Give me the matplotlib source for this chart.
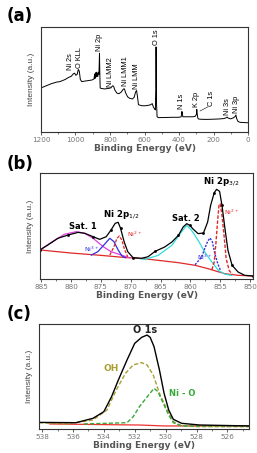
import matplotlib
matplotlib.use("Agg")
import matplotlib.pyplot as plt
from matplotlib.ticker import MultipleLocator

# ---- (a) survey spectrum ----
survey_ev = [1200, 1170, 1140, 1110, 1090, 1060, 1040, 1025, 1012, 1005, 998, 990, 984, 978,
             972, 964, 945, 925, 905, 893, 889, 887, 885, 883, 880, 877, 874, 871, 868, 864,
             861, 859, 857, 852, 830, 810, 795, 785, 779, 772, 760, 748, 735, 722, 716, 710,
             698, 685, 670, 660, 652, 646, 641, 635, 615, 595, 575, 565, 555, 549, 542, 537,
             534, 533, 531, 527, 520, 480, 440, 400, 387, 384, 381, 378, 350, 320, 305, 299,
             297, 294, 291, 285, 270, 240, 200, 160, 140, 128, 121, 116, 100, 85, 76, 70, 66,
             58, 45, 25, 0]
survey_int = [42, 44, 46, 47.5, 48, 50, 52, 53, 55.5, 56, 54, 55, 59.5, 58,
              50, 48, 48.5, 49, 49.5, 50.5, 55, 51, 56, 52, 57, 53, 56, 53, 57, 55,
              75, 56, 42, 41.5, 41, 41.5, 42, 44, 43.5, 40, 37, 36.5, 38, 41, 41, 37.5,
              33.5, 32, 31.5, 33, 38, 39.5, 34, 26, 25, 25, 25.5, 26, 27, 24, 22, 21,
              40, 81, 30, 14.5, 13.7, 13.8, 14, 14, 14.5, 19.5, 19, 14.5, 14.5, 14.5, 15, 17,
              21.5, 17, 13.2, 12.3, 12.1, 12, 12.2, 12.5, 12.8, 13.5, 14.2, 13.3, 12.5, 13.5, 14.5, 16.2, 13,
              10, 9.2, 9, 8.8]
peak_names = ["Ni 2s", "O KLL", "Ni 2p", "Ni LMM2", "Ni LMM1", "Ni LMM", "O 1s",
              "N 1s", "K 2p", "C 1s", "Ni 3s", "Ni 3p"]
peak_ev = [1030, 978, 862, 800, 713, 649, 533, 386, 297, 212, 116, 66]
peak_y = [59, 61, 77, 43, 44, 41, 83, 22, 24, 25, 16, 18]

# ---- (b) Ni 2p ----
b_env_ev = [885.2, 883.9, 882.2, 880.5, 878.8, 877.7, 876.3, 875.2, 874.1, 873.3, 872.6, 872.1,
            871.7, 871.1, 870.5, 869.6, 868.2, 867.1, 865.9, 864.3, 863.1, 862.0, 861.2, 860.6,
            860.1, 859.5, 858.7, 857.8, 857.1, 856.6, 856.0, 855.6, 855.1, 854.7, 854.2, 853.7,
            853.0, 852.0, 850.9, 849.5]
b_env = [27.4, 32, 38.4, 41.5, 44, 43.1, 39.9, 37.4, 39.9, 46.2, 52.5, 53.5,
         47.8, 35.2, 25.8, 20.1, 19.5, 21, 26.1, 30.2, 34.9, 41.2, 49.1, 52.2,
         50.6, 46.9, 42.8, 43.4, 53.8, 69.5, 81.4, 84.6, 82.7, 69.5, 47.5, 27.1,
         12.9, 6.6, 3.5, 2.8]
b_bg_ev = [885.2, 880, 875, 871, 868, 862, 859.2, 857, 855.6, 854.2, 852, 849.5]
b_bg = [27.4, 24.5, 22.3, 20.3, 19.3, 15.4, 12.9, 9.7, 7.3, 5, 3.5, 2.8]
sat1_ev = [885.2, 883.3, 881.1, 879.1, 877.7, 876.3, 874.6, 873.3, 871.6, 870.2]
sat1 = [27.4, 34.6, 42.2, 44.7, 43.1, 38.4, 30.5, 25.8, 22.6, 20.1]
ni3_12_ev = [876.6, 875.5, 874.4, 873.5, 872.8, 872.1, 871.5, 870.9]
ni3_12 = [22.6, 25.8, 32.7, 38.4, 35.2, 27.4, 22, 20.1]
ni2_12_ev = [873.5, 872.8, 872.3, 871.9, 871.5, 871.0, 870.5]
ni2_12 = [22.6, 30.5, 38.4, 40.6, 36.8, 27.4, 21]
sat2_ev = [868.5, 867.6, 865.4, 863.1, 861.5, 860.6, 859.8, 858.7, 857.6, 856.4, 855.3, 854.2, 853.1]
sat2 = [19.3, 18.5, 22.3, 31.8, 44.3, 50.6, 45.9, 36.5, 25.5, 16, 8.2, 4.5, 3.4]
ni3_32_ev = [859.2, 858.1, 857.6, 857.1, 856.7, 856.3, 855.9, 855.4, 854.9]
ni3_32 = [13.5, 20.8, 28.6, 35.5, 38.7, 34.9, 23.9, 14.4, 7.5]
ni2_32_ev = [856.4, 856.0, 855.7, 855.4, 855.2, 855.0, 854.7, 854.3, 854.0, 853.5, 853.0]
ni2_32 = [8.8, 16, 34.9, 56.9, 69.5, 71, 60.1, 38, 19.2, 8.2, 4.5]

# ---- (c) O 1s ----
c_env_ev = [538.2, 535.8, 534.7, 534.0, 533.5, 533.06, 532.5, 532.0, 531.55, 531.2, 531.0,
            530.75, 530.4, 530.1, 529.8, 529.5, 528.96, 527.8, 524.6]
c_env = [6.3, 6.0, 10.2, 16.5, 30.8, 46.7, 65.7, 81.6, 87.3, 89.5, 87.3,
         78.4, 56.2, 34, 18.1, 9.2, 5.4, 3.8, 2.9]
oh_ev = [538.2, 536.4, 534.7, 533.8, 533.2, 532.6, 532.1, 531.55, 531.2, 530.8, 530.4,
         529.9, 529.5, 528.96, 527.8, 524.6]
oh = [6.0, 4.8, 8.6, 18.1, 37.1, 53, 61, 63.2, 61, 51.4, 34,
      18.1, 7, 2.9, 2.2, 2.2]
nio_ev = [535.3, 532.5, 532.1, 531.7, 531.1, 530.75, 530.5, 530.15, 529.8, 529.5, 528.96, 524.6]
nio = [4.8, 6.0, 11.7, 21.2, 32.4, 38.7, 35.6, 24.4, 13.3, 6, 2.9, 2.9]
c_bg_ev = [537.5, 533.6, 531.7, 530.05, 527.8, 524.6]
c_bg = [4.8, 4.1, 3.8, 2.9, 2.9, 2.9]

TICK = "#777777"
LAB = "#555555"
narrow = ["Liberation Sans Narrow", "Liberation Sans", "DejaVu Sans"]

fig = plt.figure(figsize=(2.57, 4.53), dpi=100)
fig.patch.set_facecolor("white")


def style(ax, xlim, major, minor):
    ax.set_xlim(*xlim)
    ax.set_ylim(0, 100)
    ax.set_yticks([])
    ax.xaxis.set_major_locator(MultipleLocator(major))
    ax.xaxis.set_minor_locator(MultipleLocator(minor))
    ax.tick_params(axis="x", which="major", direction="out", length=2, width=0.6,
                   pad=1.5, labelsize=5.2, labelcolor=TICK, color="#444444")
    ax.tick_params(axis="x", which="minor", direction="out", length=1.2, width=0.5,
                   color="#444444")
    for s in ax.spines.values():
        s.set_linewidth(0.8)
        s.set_color("#333333")
    ax.set_xlabel("Binding Energy (eV)", fontsize=6.5, fontweight="bold",
                  color=LAB, labelpad=1)
    ax.set_ylabel("Intensity (a.u.)", fontsize=6, color="#444444", labelpad=4,
                  family=narrow)


# (a)
axa = fig.add_axes([41 / 257, 1 - 132 / 453, 207 / 257, 105 / 453])
style(axa, (1200, 0), 200, 100)
axa.plot(survey_ev, survey_int, color="black", lw=0.7)
for name, x, y in zip(peak_names, peak_ev, peak_y):
    axa.text(x, y, name, rotation=90, ha="center", va="bottom", fontsize=5.3,
             family=narrow, color="black")
axa.plot([278, 232], [20, 24], color="black", lw=0.4)

# (b)
axb = fig.add_axes([40 / 257, 1 - 279 / 453, 213 / 257, 106 / 453])
style(axb, (885.2, 849.5), 5, 2.5)
axb.plot(b_bg_ev, b_bg, color="#e02828", lw=0.9)
axb.plot(sat1_ev, sat1, color="#e040e0", lw=0.9)
axb.plot(ni3_12_ev, ni3_12, color="#3030e0", lw=0.9)
axb.plot(ni2_12_ev, ni2_12, color="#e02828", lw=0.9, ls=(0, (2.5, 1.2)))
axb.plot(sat2_ev, sat2, color="#30dede", lw=0.9)
axb.plot(ni3_32_ev, ni3_32, color="#3030e0", lw=1.0, ls=(0, (1.5, 1)))
axb.plot(ni2_32_ev, ni2_32, color="#e02828", lw=1.0, ls=(0, (2.5, 1.2)))
axb.plot(b_env_ev, b_env, color="black", lw=0.9, marker="s", ms=0.9, markevery=3)
axb.text(878, 50, "Sat. 1", ha="center", va="center", fontsize=6, fontweight="bold")
axb.text(871.6, 61, r"Ni 2p$_{1/2}$", ha="center", va="center", fontsize=6.2,
         fontweight="bold")
axb.text(860.7, 57.5, "Sat. 2", ha="center", va="center", fontsize=6, fontweight="bold")
axb.text(854.9, 91.5, r"Ni 2p$_{3/2}$", ha="center", va="center", fontsize=6.2,
         fontweight="bold")
axb.text(869.3, 42.5, r"Ni$^{2+}$", ha="center", va="center", fontsize=4.5, color="#e02828")
axb.text(876.5, 28.3, r"Ni$^{3+}$", ha="center", va="center", fontsize=4.5, color="#3030e0")
axb.text(857.6, 20.8, r"Ni$^{3+}$", ha="center", va="center", fontsize=4.5, color="#3030e0")
axb.text(853.0, 63, r"Ni$^{2+}$", ha="center", va="center", fontsize=4.5, color="#e02828")

# (c)
axc = fig.add_axes([39 / 257, 1 - 429 / 453, 210 / 257, 105 / 453])
style(axc, (538.2, 524.6), 2, 1)
axc.plot(c_bg_ev, c_bg, color="#f03030", lw=0.9)
axc.plot(oh_ev, oh, color="#a8a032", lw=1.0, ls=(0, (3, 1.5)))
axc.plot(nio_ev, nio, color="#38a838", lw=1.0, ls=(0, (3, 1.5)))
axc.plot(c_env_ev, c_env, color="black", lw=1.0)
axc.text(531.3, 94, "O 1s", ha="center", va="center", fontsize=7, fontweight="bold",
         color="#222222")
axc.text(533.5, 58, "OH", ha="center", va="center", fontsize=6.5, fontweight="bold",
         color="#a8a032")
axc.text(528.9, 34, "Ni - O", ha="center", va="center", fontsize=6, fontweight="bold",
         color="#38a838")

for lab, y in (("(a)", 7), ("(b)", 155), ("(c)", 305)):
    fig.text(7 / 257, 1 - y / 453, lab, ha="left", va="top", fontsize=12,
             fontweight="bold")

fig.savefig("out.png", dpi=100, facecolor="white")
